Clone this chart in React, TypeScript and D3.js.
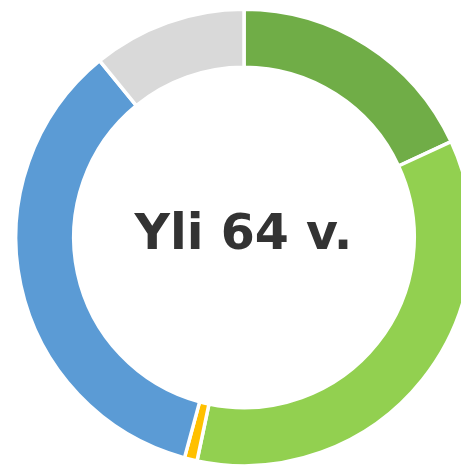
import React from "react";
import * as d3 from "d3";

const categories = ["A", "B", "C", "D", "E"];
const values = [18.1, 35.2, 0.9, 34.9, 10.9];
const colors = ["#70AD47", "#92D050", "#FFC000", "#5B9BD5", "#D9D9D9"];
const centerLabel = "Yli 64 v.";

export default function App() {
  const width = 461;
  const height = 465;
  const cx = 244;
  const cy = 237.5;
  const stroke = 3.5;
  const outerR = 226.5 + stroke / 2;
  const innerR = 172 - stroke / 2;

  const data = categories.map((c, i) => ({ c, v: values[i], color: colors[i] }));
  const pie = d3.pie<any>().sort(null).value((d) => d.v).startAngle(0).endAngle(Math.PI * 2);
  const arc = d3.arc<any>().innerRadius(innerR).outerRadius(outerR);
  const arcs = pie(data);

  return (
    <svg
      width={width}
      height={height}
      style={{ position: "absolute", left: 0, top: 0, background: "#fff" }}
    >
      <g transform={`translate(${cx},${cy})`}>
        {arcs.map((a, i) => (
          <path key={i} d={arc(a) || ""} fill={a.data.color} stroke="#fff" strokeWidth={stroke} />
        ))}
        <text
          x={-0.5}
          y={11}
          textAnchor="middle"
          fontFamily="DejaVu Sans"
          fontWeight="bold"
          fontSize={49}
          fill="#333333"
        >
          {centerLabel}
        </text>
      </g>
    </svg>
  );
}
